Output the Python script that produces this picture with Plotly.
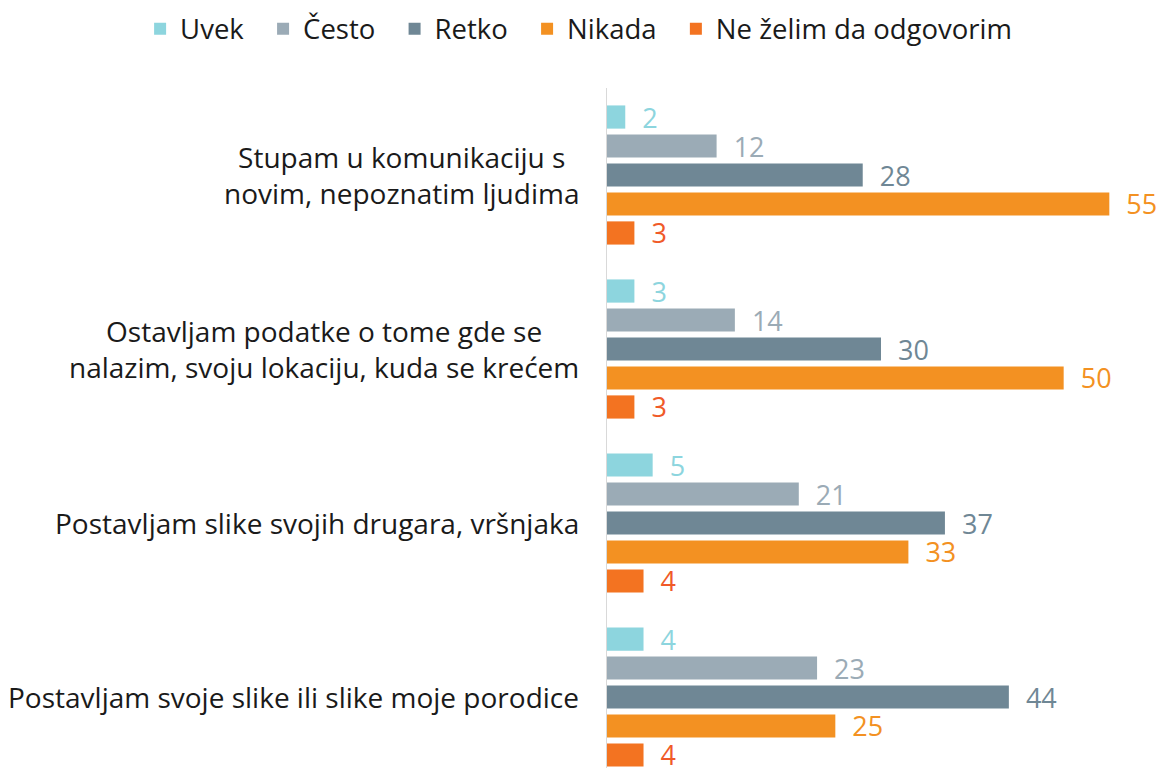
import plotly.graph_objects as go

categories = [
    "Stupam u komunikaciju s<br>novim, nepoznatim ljudima",
    "Ostavljam podatke o tome gde se<br>nalazim, svoju lokaciju, kuda se krećem",
    "Postavljam slike svojih drugara, vršnjaka",
    "Postavljam svoje slike ili slike moje porodice",
]
series_names = ["Uvek", "Često", "Retko", "Nikada", "Ne želim da odgovorim"]
uvek = [2, 3, 5, 4]
cesto = [12, 14, 21, 23]
retko = [28, 30, 37, 44]
nikada = [55, 50, 33, 25]
ne_zelim = [3, 3, 4, 4]
series_values = [uvek, cesto, retko, nikada, ne_zelim]

bar_colors = ["#8dd5de", "#9babb6", "#6f8795", "#f39122", "#f37321"]
label_colors = ["#8dd5de", "#9babb6", "#6f8795", "#f39122", "#f05a28"]

FONT = "Open Sans"
FS_CAT = 28
FS_VAL = 27
FS_LEG = 27.5

fig = go.Figure()
for name, vals, bc, lc in zip(series_names, series_values, bar_colors, label_colors):
    fig.add_trace(go.Bar(
        name=name + "\u00a0\u00a0",
        y=list(range(len(categories))),
        x=vals,
        orientation="h",
        marker=dict(color=bc, line=dict(width=0)),
        texttemplate="\u00a0\u00a0%{x}",
        textposition="outside",
        constraintext="none",
        textfont=dict(family=FONT, size=FS_VAL, color=lc),
        cliponaxis=False,
    ))

for i, cat in enumerate(categories):
    fig.add_annotation(
        x=0, xref="paper", xanchor="right", xshift=-26,
        y=i, yref="y", yanchor="middle",
        text=cat, align="center", showarrow=False,
        font=dict(family=FONT, size=FS_CAT, color="#1a1a1a"),
    )

fig.update_layout(
    width=1161, height=768,
    margin=dict(l=607, r=6, t=88, b=0, autoexpand=False),
    paper_bgcolor="white", plot_bgcolor="white",
    barmode="group", bargap=0.167, bargroupgap=0.2,
    showlegend=True,
    legend=dict(
        orientation="h", xref="paper", yref="paper",
        x=-0.852, xanchor="left", y=1.087, yanchor="middle",
        font=dict(family=FONT, size=FS_LEG, color="#1a1a1a"),
        traceorder="normal", itemwidth=30,
    ),
    font=dict(family=FONT),
)
fig.update_xaxes(range=[0, 60], showgrid=False, zeroline=False, showticklabels=False,
                 showline=False, ticks="")
fig.update_yaxes(range=[3.408, -0.5], showgrid=False, zeroline=False, showticklabels=False,
                 showline=True, linecolor="#d9d9d9", linewidth=1, ticks="")

fig.write_html(
    "out.html",
    config={"displayModeBar": False},
    post_script="document.body.style.margin='0';document.body.style.overflow='hidden';",
)
